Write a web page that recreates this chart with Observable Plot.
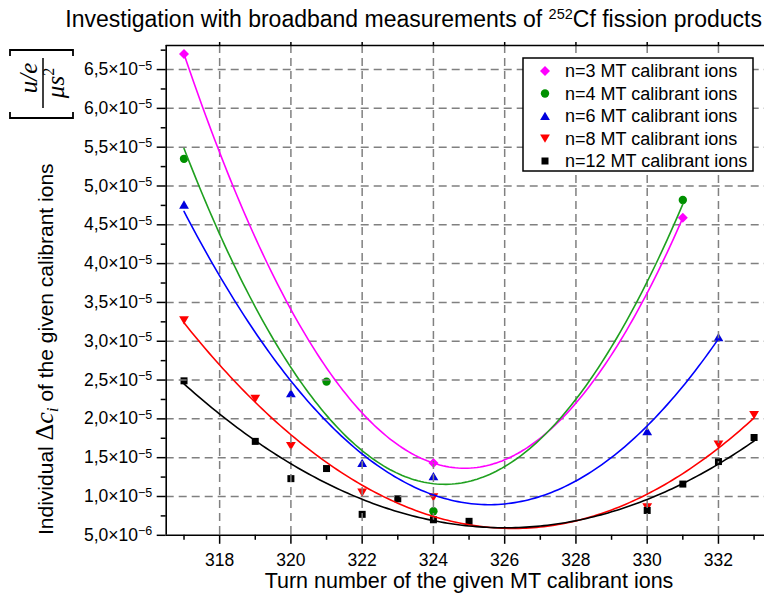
<!DOCTYPE html>
<html><head><meta charset="utf-8">
<script src="https://cdn.jsdelivr.net/npm/d3@7"></script>
<script src="https://cdn.jsdelivr.net/npm/@observablehq/plot@0.6"></script>
<style>
html,body{margin:0;padding:0;background:#fff;overflow:hidden}
svg{display:block}
</style></head><body><div id="chart"></div>
<script>
// ---------- data ----------
const seriesNames = ["n=3 MT calibrant ions","n=4 MT calibrant ions","n=6 MT calibrant ions","n=8 MT calibrant ions","n=12 MT calibrant ions"];
const markerColors = ["#ff00ff","#009000","#0000dd","#ff0000","#000000"];
const lineColors   = ["#ff00ff","#1fa01f","#0000ff","#ff0000","#000000"];

const x_n3  = [317, 324, 331];
const y_n3  = [6.70e-5, 1.43e-5, 4.59e-5];
const x_n4  = [317, 321, 324, 331];
const y_n4  = [5.35e-5, 2.48e-5, 0.81e-5, 4.82e-5];
const x_n6  = [317, 320, 322, 324, 330, 332];
const y_n6  = [4.76e-5, 2.33e-5, 1.43e-5, 1.26e-5, 1.84e-5, 3.05e-5];
const x_n8  = [317, 319, 320, 322, 324, 330, 332, 333];
const y_n8  = [3.27e-5, 2.26e-5, 1.65e-5, 1.05e-5, 0.99e-5, 0.86e-5, 1.67e-5, 2.05e-5];
const x_n12 = [317, 319, 320, 321, 322, 323, 324, 325, 330, 331, 332, 333];
const y_n12 = [2.49e-5, 1.71e-5, 1.23e-5, 1.36e-5, 0.77e-5, 0.97e-5, 0.70e-5, 0.68e-5, 0.82e-5, 1.16e-5, 1.45e-5, 1.76e-5];

const xTicksMajor = [318, 320, 322, 324, 326, 328, 330, 332];
const xTicksMinor = [317, 319, 321, 323, 325, 327, 329, 331, 333];
const yTicksMajor = [5e-6, 1e-5, 1.5e-5, 2e-5, 2.5e-5, 3e-5, 3.5e-5, 4e-5, 4.5e-5, 5e-5, 5.5e-5, 6e-5, 6.5e-5];
const yTicksMinor = [7.5e-6, 1.25e-5, 1.75e-5, 2.25e-5, 2.75e-5, 3.25e-5, 3.75e-5, 4.25e-5, 4.75e-5, 5.25e-5, 5.75e-5, 6.25e-5, 6.75e-5];

const titleMain = "Investigation with broadband measurements of ";
const titleSup = "252";
const titleEnd = "Cf fission products";
const xTitle = "Turn number of the given MT calibrant ions";

// ---------- marker shapes ----------
const symDiamond = {draw(c){c.moveTo(0,-5);c.lineTo(5,0);c.lineTo(0,5);c.lineTo(-5,0);c.closePath();}};
const symCircle  = {draw(c){c.moveTo(4.2,0);c.arc(0,0,4.2,0,2*Math.PI);c.closePath();}};
const symTriUp   = {draw(c){c.moveTo(0,-4.3);c.lineTo(4.9,4);c.lineTo(-4.9,4);c.closePath();}};
const symTriDown = {draw(c){c.moveTo(0,4.3);c.lineTo(4.9,-4);c.lineTo(-4.9,-4);c.closePath();}};
const symSquare  = {draw(c){c.rect(-3.5,-3.5,7,7);}};
const symbols = [symDiamond, symCircle, symTriUp, symTriDown, symSquare];

const xs = [x_n3, x_n4, x_n6, x_n8, x_n12];
const ys = [y_n3, y_n4, y_n6, y_n8, y_n12];

// ---------- least-squares quadratic fit of each series (as in the original) ----------
function quadFit(X, Y) {
  const x0 = d3.mean(X);
  const S = [[0,0,0],[0,0,0],[0,0,0]], T = [0,0,0];
  X.forEach((x, i) => {
    const t = x - x0, p = [t*t, t, 1], yv = Y[i] * 1e5;
    for (let j = 0; j < 3; j++) { T[j] += p[j]*yv; for (let k = 0; k < 3; k++) S[j][k] += p[j]*p[k]; }
  });
  const A = S.map((r, i) => [...r, T[i]]);
  for (let i = 0; i < 3; i++) {
    let m = i; for (let r = i+1; r < 3; r++) if (Math.abs(A[r][i]) > Math.abs(A[m][i])) m = r;
    [A[i], A[m]] = [A[m], A[i]];
    for (let r = i+1; r < 3; r++) { const f = A[r][i]/A[i][i]; for (let k = i; k < 4; k++) A[r][k] -= f*A[i][k]; }
  }
  const sol = [0,0,0];
  for (let i = 2; i >= 0; i--) { let s = A[i][3]; for (let k = i+1; k < 3; k++) s -= A[i][k]*sol[k]; sol[i] = s/A[i][i]; }
  const [a, b, c] = sol;
  return x => (a*(x-x0)*(x-x0) + b*(x-x0) + c) * 1e-5;
}

const pointMarks = xs.map((X, s) => Plot.dot(X.map((x, i) => ({x, y: ys[s][i]})), {
  x: "x", y: "y", symbol: symbols[s], fill: markerColors[s], r: 4
}));
const lineMarks = xs.map((X, s) => {
  const f = quadFit(X, ys[s]);
  const lo = d3.min(X), hi = d3.max(X);
  const pts = d3.range(0, 161).map(i => { const x = lo + (hi - lo) * i / 160; return {x, y: f(x)}; });
  return Plot.line(pts, {x: "x", y: "y", stroke: lineColors[s], strokeWidth: 1.6});
});

const gridStyle = {stroke: "#808080", strokeOpacity: 1, strokeWidth: 1.5, strokeDasharray: "8,5"};
const fmtY = v => {
  const e = v < 9.99e-6 ? -6 : -5;
  return (v / Math.pow(10, e)).toFixed(1).replace(".", ",") + "×10^" + e;
};

const svg = Plot.plot({
  width: 764, height: 594,
  marginLeft: 165.7, marginRight: -7.4, marginTop: 45, marginBottom: 59.2,
  x: {domain: [316.5, 333.5]},
  y: {domain: [5e-6, 6.81e-5]},
  style: {fontFamily: "'Liberation Sans', Arial, sans-serif", background: "#fff", color: "#000"},
  marks: [
    ...pointMarks,
    Plot.gridX(xTicksMajor, gridStyle),
    Plot.gridY(yTicksMajor.slice(1), gridStyle),
    ...lineMarks,
    Plot.ruleY([5e-6], {stroke: "#000", strokeWidth: 1.6}),
    Plot.ruleY([6.81e-5], {stroke: "#000", strokeWidth: 1.6}),
    Plot.ruleX([316.5], {stroke: "#000", strokeWidth: 1.6}),
    Plot.axisX(xTicksMajor, {tickSize: 9, tickPadding: 9.5, fontSize: 17.5, label: null, strokeWidth: 1.5, tickFormat: d => String(d)}),
    Plot.axisX(xTicksMinor, {tickSize: 5, fill: "none", label: null, strokeWidth: 1.5}),
    Plot.axisX(xTicksMajor, {anchor: "top", tickSize: 4, fill: "none", label: null, strokeWidth: 1.5}),
    Plot.axisY(yTicksMajor, {tickSize: 9, tickPadding: 5, fontSize: 17.5, label: null, strokeWidth: 1.5, tickFormat: fmtY}),
    Plot.axisY(yTicksMinor, {tickSize: 5, fill: "none", label: null, strokeWidth: 1.5})
  ]
});

// superscripts in y tick labels
svg.querySelectorAll("text").forEach(t => {
  const s = t.textContent;
  if (s.includes("^")) {
    const [base, ex] = s.split("^");
    t.textContent = "";
    const sel = d3.select(t);
    sel.append("tspan").text(base);
    sel.append("tspan").attr("dy", "-5.5").attr("font-size", "12.5px").text(ex.replace("-", "\u2212"));
  }
});

const S = d3.select(svg);
const NS = "'Liberation Sans', Arial, sans-serif";
const SERIF = "'Liberation Serif', 'DejaVu Serif', serif";

// title
const tt = S.append("text").attr("x", 762).attr("y", 27).attr("text-anchor", "end")
  .attr("font-family", NS).attr("font-size", "23px").attr("fill", "#000");
tt.append("tspan").text(titleMain);
tt.append("tspan").attr("dy", "-8").attr("font-size", "14.5px").text(titleSup);
tt.append("tspan").attr("dy", "8").text(titleEnd);

// x title
S.append("text").attr("x", 469).attr("y", 588).attr("text-anchor", "middle")
  .attr("font-family", NS).attr("font-size", "21.5px").attr("fill", "#000").text(xTitle);

// y title (rotated)
const g = S.append("g").attr("transform", "translate(0,535) rotate(-90)");
const yt = g.append("text").attr("x", 0).attr("y", 53).attr("text-anchor", "start")
  .attr("font-family", NS).attr("font-size", "21px").attr("fill", "#000");
yt.append("tspan").text("Individual ");
yt.append("tspan").attr("font-family", SERIF).attr("font-size", "26px").text("Δ");
yt.append("tspan").attr("font-family", SERIF).attr("font-style", "italic").attr("font-size", "26px").text("c");
yt.append("tspan").attr("font-family", SERIF).attr("font-style", "italic").attr("font-size", "17px").attr("dy", "5").text("i");
yt.append("tspan").attr("dy", "-5").text(" of the given calibrant ions");
// unit fraction [ (u/e) / (μs²) ]
g.append("path").attr("d", "M423,10H417V73H423").attr("fill", "none").attr("stroke", "#000").attr("stroke-width", 1.8);
g.append("path").attr("d", "M479,10H485V73H479").attr("fill", "none").attr("stroke", "#000").attr("stroke-width", 1.8);
g.append("line").attr("x1", 427).attr("x2", 477).attr("y1", 43).attr("y2", 43).attr("stroke", "#000").attr("stroke-width", 1.5);
g.append("text").attr("x", 457).attr("y", 37).attr("text-anchor", "middle").attr("font-family", SERIF)
  .attr("font-style", "italic").attr("font-size", "25px").attr("fill", "#000").text("u/e");
const den = g.append("text").attr("x", 452).attr("y", 64).attr("text-anchor", "middle").attr("font-family", SERIF)
  .attr("font-style", "italic").attr("font-size", "25px").attr("fill", "#000");
den.append("tspan").text("μs");
den.append("tspan").attr("dy", "-10").attr("font-size", "16px").attr("font-style", "normal").text("2");

// legend
const L = S.append("g");
L.append("rect").attr("x", 523).attr("y", 58).attr("width", 230).attr("height", 113)
  .attr("fill", "#fff").attr("stroke", "#000").attr("stroke-width", 1.5);
const rowY = [71, 93.5, 116, 138.5, 161];
seriesNames.forEach((name, i) => {
  L.append("path").attr("d", d3.symbol(symbols[i])()).attr("transform", `translate(545,${rowY[i]})`).attr("fill", markerColors[i]);
  L.append("text").attr("x", 565).attr("y", rowY[i] + 6.4).attr("text-anchor", "start")
    .attr("font-family", NS).attr("font-size", "18px").attr("fill", "#000").text(name);
});

document.getElementById("chart").appendChild(svg);
</script></body></html>
